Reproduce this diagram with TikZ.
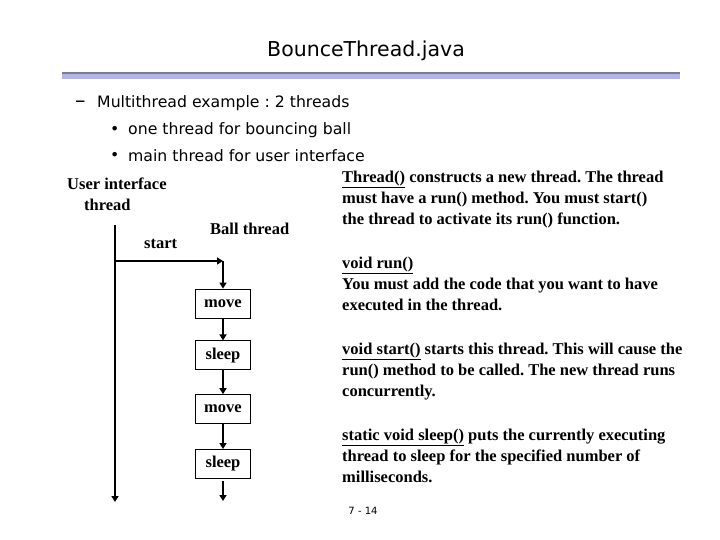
\documentclass[tikz,border=0pt]{standalone}
\usepackage{fontspec}
\setmainfont{Liberation Serif}
\newfontfamily\slidefont{DejaVu Sans}
\usepackage{tikz}
\usetikzlibrary{positioning,arrows.meta,calc}
\frenchspacing
\definecolor{ruledark}{HTML}{7A7A96}
\definecolor{rulelight}{HTML}{B4B4E4}
\newcommand{\serifbody}{\bfseries\fontsize{16.5}{21}\selectfont}
\newcommand{\bulletfont}{\slidefont\fontsize{15.7}{19}\selectfont}
\tikzset{
  actbox/.style={draw,line width=0.8pt,fill=white,minimum width=55pt,minimum height=29pt,inner sep=1pt,font=\serifbody},
  lbl/.style={inner sep=0pt,anchor=west,font=\serifbody},
  note/.style={inner sep=0pt,anchor=north west,align=left,font=\serifbody},
  bul/.style={inner sep=0pt,anchor=west,font=\bulletfont},
  flow/.style={line width=2pt,-{Triangle[length=6pt,width=7pt]}},
}

\begin{document}
\begin{tikzpicture}[x=1pt,y=-1pt]
\useasboundingbox (0,0) rectangle (720,540);

% slide header
\node[inner sep=0pt,font=\slidefont\fontsize{20.5}{24}\selectfont] (title) at (366,51) {BounceThread.java};
\fill[rulelight] (62,73) rectangle (680,79);
\fill[ruledark] (62,72) rectangle (680,74.5);

% bullet list
\node[bul] (sub) at (97,103) {Multithread example : 2 threads};
\node[bul,font=\slidefont\fontsize{21}{24}\selectfont] (subdash) at (75,104) {–};
\node[bul] (b1) at (128,130) {one thread for bouncing ball};
\node[bul] (b2) at (128,156) {main thread for user interface};
\node[bul] (b1dot) at (110,130) {•};
\node[bul] (b2dot) at (110,156) {•};

% the two threads
\node[lbl] (uilabel) at (67,184) {User interface};
\node[lbl] (uilabel2) at (84,205) {thread};
\node[lbl] (balllabel) at (210,229) {Ball thread};
\node[lbl] (startlabel) at (144,244) {start};

\coordinate (uitop) at (115,225);
\coordinate (fork) at (115,261);
\coordinate (uiend) at (115,502);
\coordinate (join) at (223,261);

\node[actbox] (move1) at (223,303.5) {move};
\node[actbox,below=22pt of move1] (sleep1) {sleep};
\node[actbox,below=24pt of sleep1] (move2) {move};
\node[actbox,below=25pt of move2] (sleep2) {sleep};
\coordinate (ballend) at (223,501);

\draw[flow] (uitop) -- (uiend);
\draw[flow] (fork) -- (join);
\draw[flow] (join) -- (move1);
\draw[flow] (move1) -- (sleep1);
\draw[flow] (sleep1) -- (move2);
\draw[flow] (move2) -- (sleep2);
\draw[flow] ($(sleep2.south)+(0,2)$) -- (ballend);

% method notes
\node[note] (n1) at (342,171) {\underline{Thread()} constructs a new thread. The thread\\must have a run() method. You must start()\\the thread to activate its run() function.};
\node[note] (n2) at (342,257) {\underline{void run()}\\You must add the code that you want to have\\executed in the thread.};
\node[note] (n3) at (342,343) {\underline{void start()} starts this thread. This will cause the\\run() method to be called. The new thread runs\\concurrently.};
\node[note] (n4) at (342,429) {\underline{static void sleep()} puts the currently executing\\thread to sleep for the specified number of\\milliseconds.};

\node[inner sep=0pt,font=\slidefont\fontsize{10}{12}\selectfont] (pageno) at (363,511) {7 - 14};
\end{tikzpicture}
\end{document}
